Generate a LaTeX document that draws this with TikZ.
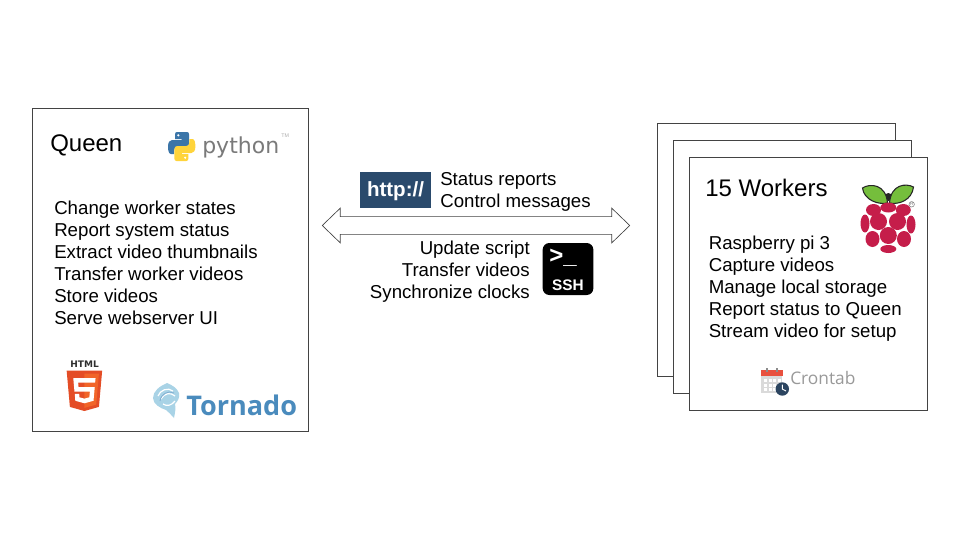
\documentclass[tikz,border=0pt]{standalone}
\usepackage{fontspec}
\usetikzlibrary{shapes.arrows}
\setmainfont{Liberation Sans}
\newfontfamily\logofont{DejaVu Sans}
\newfontfamily\opensans{Open Sans}
\definecolor{boxline}{HTML}{434343}
\definecolor{pyblue}{HTML}{3B75A8}
\definecolor{pyyellow}{HTML}{FFD43B}
\definecolor{pygrey}{HTML}{7A7A7A}
\definecolor{httpblue}{HTML}{2A4A6C}
\definecolor{htmlred}{HTML}{E44D26}
\definecolor{htmlorange}{HTML}{F16529}
\definecolor{tornadoblue}{HTML}{4A8BBD}
\definecolor{tornadolight}{HTML}{A9D3E6}
\definecolor{berry}{HTML}{C51D4A}
\definecolor{leaf}{HTML}{75BE3C}
\definecolor{calred}{HTML}{E8503E}
\definecolor{calgrey}{HTML}{DADADA}
\definecolor{clockblue}{HTML}{2C4560}
\definecolor{crongrey}{HTML}{999999}
\tikzset{
	queenbox/.style={draw=boxline,fill=white,line width=.75pt,minimum width=207pt,minimum height=242.25pt,inner sep=0pt,outer sep=0pt,anchor=north west},
	workerbox/.style={draw=boxline,fill=white,line width=.75pt,minimum width=178.5pt,minimum height=190pt,inner sep=0pt,outer sep=0pt,anchor=north west},
	titletext/.style={font=\fontsize{18}{21}\selectfont,inner sep=0pt,anchor=base west},
	listtext/.style={font=\fontsize{14}{16.5}\selectfont,inner sep=0pt,align=left,anchor=base west},
	righttext/.style={font=\fontsize{14}{16.5}\selectfont,inner sep=0pt,align=right,anchor=base east},
}
\begin{document}
\begin{tikzpicture}[x=.75pt,y=-.75pt]
	\useasboundingbox (0,0) rectangle (960,540);
	% boxes
	\node[queenbox](queen) at (32.5,108.5){};
	\node[workerbox](workera) at (657.5,123.5){};
	\node[workerbox](workerb) at (673.5,140.5){};
	\node[workerbox](workerc) at (689.5,157.5){};
	% arrow between them
	\node[double arrow,draw=boxline,fill=white,line width=.5pt,minimum height=230.6pt,minimum width=25.5pt,inner xsep=0pt,inner ysep=6.4pt,double arrow head extend=6.4pt,double arrow tip angle=88](link) at (476,225.5){};
	% texts
	\node[titletext](queentitle) at (50,151){Queen};
	\node[listtext](queenlist) at (54,324){Change worker states\\Report system status\\Extract video thumbnails\\Transfer worker videos\\Store videos\\Serve webserver UI};
	\node[titletext](workertitle) at (705,196){15 Workers};
	\node[listtext](workerlist) at (708.5,337){Raspberry pi 3\\Capture videos\\Manage local storage\\Report status to Queen\\Stream video for setup};
	\node[listtext](httplist) at (440,207){Status reports\\Control messages};
	\node[righttext](sshlist) at (530,298){Update script\\Transfer videos\\Synchronize clocks};
	% python
	\path[fill=pyblue] (177,132) -- (187,132) .. controls (188.5,132) and (189,133) .. (189,134.5) -- (189,143.5) .. controls (189,146) and (188,147) .. (186,147) -- (177,147) .. controls (175,147) and (174,148.5) .. (174,151) -- (174,154) -- (171,154) .. controls (169,154) and (168,151) .. (168,146.5) .. controls (168,142) and (170,140) .. (172,140) -- (181.5,140) -- (181.5,139) -- (175,139) -- (175,135) .. controls (175,133) and (175.5,132) .. (177,132) -- cycle;
	\path[fill=pyyellow,rotate around={180:(181.7,146.5)}] (177,132) -- (187,132) .. controls (188.5,132) and (189,133) .. (189,134.5) -- (189,143.5) .. controls (189,146) and (188,147) .. (186,147) -- (177,147) .. controls (175,147) and (174,148.5) .. (174,151) -- (174,154) -- (171,154) .. controls (169,154) and (168,151) .. (168,146.5) .. controls (168,142) and (170,140) .. (172,140) -- (181.5,140) -- (181.5,139) -- (175,139) -- (175,135) .. controls (175,133) and (175.5,132) .. (177,132) -- cycle;
	\fill[white] (178.3,135.3) circle (1.2);
	\fill[white] (185.2,157.7) circle (1.2);
	\node[inner sep=0pt,anchor=base west,text=pygrey,font=\logofont\fontsize{16.5}{18}\selectfont](pythonname) at (202,153){python};
	\node[inner sep=0pt,anchor=base west,text=pygrey!60,font=\fontsize{4}{5}\selectfont](pythontm) at (281,137){TM};
	% html5
	\node[inner sep=0pt,anchor=base,text=boxline!70!black,font=\logofont\bfseries\fontsize{6.75}{8}\selectfont](htmlname) at (84.6,367.5){HTML};
	\begin{scope}[shift={(64.3,370.7)},scale=.0787]
		\fill[htmlred] (71,460) -- (30,0) -- (481,0) -- (440,460) -- (255,512) -- cycle;
		\fill[htmlorange] (256,472) -- (405,431) -- (440,37) -- (256,37) -- cycle;
		\fill[white] (114,94) -- (397,94) -- (392,150) -- (176,150) -- (181,208) -- (387,208) -- (371,382) -- (256,414) -- (140,382) -- (133,293) -- (189,293) -- (193,338) -- (256,355) -- (318,338) -- (325,265) -- (129,265) -- cycle;
	\end{scope}
	% tornado
	\fill[tornadolight] (167,383) .. controls (160,386) and (153,391) .. (153,398) .. controls (153,404) and (160,408) .. (166,410) .. controls (169,412) and (171,415) .. (174,418) .. controls (175,413) and (176,408) .. (175,404) .. controls (178,401) and (180,397) .. (179,393) .. controls (177,388) and (172,385) .. (167,383) -- cycle;
	\draw[white,line width=.9pt] (158,396) .. controls (160,390) and (168,387) .. (173,391);
	\draw[white,line width=.9pt] (161,399) .. controls (164,393) and (171,392) .. (175,396);
	\draw[white,line width=.9pt] (163,404) .. controls (167,407) and (172,405) .. (175,401);
	\draw[tornadoblue!70,line width=.6pt] (160,401) .. controls (161,394) and (168,390) .. (174,393);
	\node[inner sep=0pt,anchor=base west,text=tornadoblue,font=\opensans\bfseries\fontsize{20.3}{24}\selectfont](tornadoname) at (186,415.7){Tornado};
	% http
	\node[fill=httpblue,minimum width=53.25pt,minimum height=27pt,inner sep=0pt,outer sep=0pt,anchor=north west](httplogo) at (360,172){};
	\node[inner sep=0pt,anchor=base,text=white,font=\bfseries\fontsize{15.4}{18}\selectfont](httpname) at (395.5,196.7){http://};
	% ssh
	\node[fill=black,rounded corners=5pt,minimum width=38pt,minimum height=39pt,inner sep=0pt,outer sep=0pt,anchor=north west](sshlogo) at (542.7,243){};
	\node[inner sep=0pt,anchor=base west,text=white,font=\bfseries\fontsize{18}{20}\selectfont](sshprompt) at (549,263.5){>\_};
	\node[inner sep=0pt,anchor=base,text=white,font=\bfseries\fontsize{11.5}{13}\selectfont](sshname) at (568,290){SSH};
	% raspberry
	\fill[black!85] (888.4,197) circle (4);
	\filldraw[fill=leaf,draw=black!85,line width=.8pt] (887.5,203) .. controls (878,205) and (864,200) .. (862.5,188) .. controls (870,183) and (886,184) .. (887.5,203) -- cycle;
	\filldraw[fill=leaf,draw=black!85,line width=.8pt] (889.5,203) .. controls (899,205) and (912,200) .. (913.5,187) .. controls (906,183) and (891,184) .. (889.5,203) -- cycle;
	\fill[berry] (888.3,207.5) ellipse (8 and 5);
	\fill[berry] (873.5,210) ellipse (7.5 and 6);
	\fill[berry] (903.3,210) ellipse (7.5 and 6);
	\fill[berry] (878.5,221.5) circle (8.5);
	\fill[berry] (897.5,221.5) circle (8.5);
	\fill[berry] (865,223.5) ellipse (4.5 and 9);
	\fill[berry] (911,224.5) ellipse (4.5 and 9);
	\fill[berry] (888.3,235.5) circle (8.5);
	\fill[berry] (872.5,239) ellipse (7 and 8);
	\fill[berry] (904,239) ellipse (7 and 8);
	\fill[berry] (888.3,249) ellipse (8 and 4);
	\node[circle,draw=black!50,inner sep=.2pt,text=black!50,font=\fontsize{3.5}{4}\selectfont](rasppr) at (911.7,204.3){R};
	% crontab
	\fill[calgrey] (761,373) rectangle (782,393);
	\foreach \cx in {764,768.5,773,777.5} {
		\foreach \cy in {379,383.5,388} {
			\fill[white] (\cx,\cy) rectangle ++(3,3);
		}
	}
	\fill[calred] (761,370) rectangle (783,376);
	\fill[black!45] (766,367.5) rectangle (768,372);
	\fill[black!45] (776,367.5) rectangle (778,372);
	\fill[clockblue] (782.3,389) circle (6.7);
	\draw[white,line width=.7pt] (782.3,384.5) -- (782.3,389) -- (786,391);
	\node[inner sep=0pt,anchor=base west,text=crongrey,font=\opensans\fontsize{13}{15}\selectfont](cronname) at (790,384.3){Crontab};
\end{tikzpicture}
\end{document}
